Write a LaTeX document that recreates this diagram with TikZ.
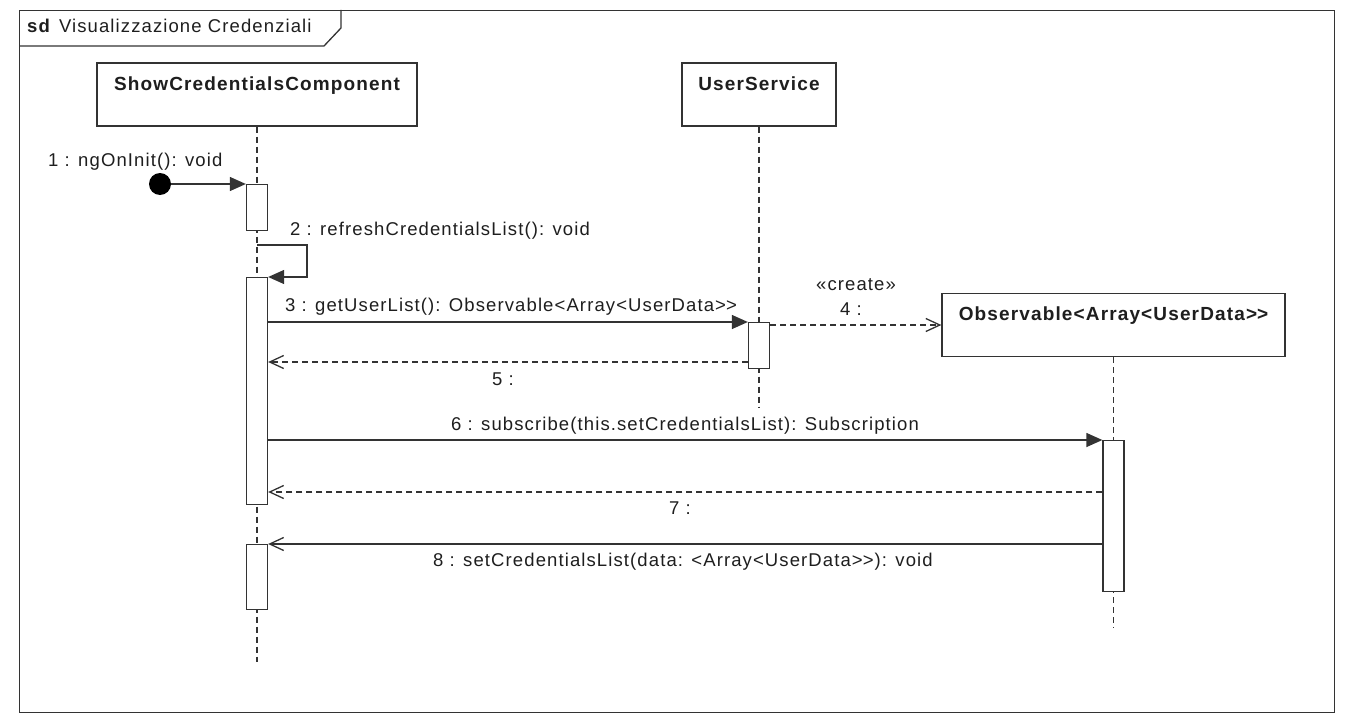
\documentclass[tikz,border=0pt]{standalone}
\usepackage{fontspec}
\setmainfont{Liberation Sans}[LetterSpace=6]
\usetikzlibrary{arrows.meta,calc}
\definecolor{ink}{HTML}{333333}
\definecolor{txt}{HTML}{1E1E1E}
% two separate '>' signs, kept apart so they are not joined into a guillemet
\newcommand{\twogt}{>\kern0pt>}

\begin{document}
\begin{tikzpicture}[x=1pt,y=-1pt,
  every node/.style={text=txt, font=\fontsize{18.5}{22}\selectfont},
  frm/.style={draw=ink, line width=1.3pt, inner sep=0pt},
  head/.style={draw=ink, line width=1.3pt, fill=white, inner sep=0pt,
    text height=27pt, text depth=36pt, minimum height=63pt,
    font=\fontsize{19}{22}\selectfont\bfseries},
  lifeline/.style={draw=ink, line width=1.3pt, dash pattern=on 6pt off 4pt},
  act/.style={draw=ink, line width=1.3pt, fill=white, inner sep=0pt,
    minimum width=21pt, anchor=north},
  lbl/.style={inner sep=0pt},
  sync/.style={draw=ink, line width=1.3pt, -{Triangle[length=16pt,width=14pt]}},
  ret/.style={draw=ink, line width=1.3pt, dash pattern=on 6pt off 4pt,
    -{Straight Barb[length=14pt,width=13pt]}},
  async/.style={draw=ink, line width=1.3pt, -{Straight Barb[length=14pt,width=13pt]}}
]
\useasboundingbox (0,0) rectangle (1354,725);

% sequence diagram frame with its name tab
\node[frm, minimum width=1315pt, minimum height=702pt, anchor=north west] (frame) at (19,10) {};
\draw[ink, line width=1.3pt] (frame.north west) ++(0,36) -- ++(305,0) -- ++(17,-18) -- ++(0,-18);
\node[lbl, anchor=base west] (title) at (27,33) {\textbf{sd}\hspace{8pt}Visualizzazione Credenziali};

% lifeline heads
\node[head, minimum width=320pt] (comp) at (257,94.5) {ShowCredentialsComponent};
\node[head, minimum width=154pt] (us) at (759,94.5) {UserService};
\node[head, minimum width=343pt] (obs) at (1113.5,325) {Observable<Array<UserData\twogt};

% lifelines
\coordinate (compend) at (257,662);
\coordinate (usend) at (759,408);
\coordinate (obsend) at (1113.5,628);
\draw[lifeline] (comp.south) -- (compend);
\draw[lifeline] (us.south) -- (usend);
\draw[lifeline] (obs.south) -- (obsend);

% activation bars
\node[act, minimum height=46pt] (a1) at (257,184) {};
\node[act, minimum height=227pt] (a2) at (257,277) {};
\node[act, minimum height=65pt] (a3) at (257,544) {};
\node[act, minimum height=46pt] (ua) at (759,322) {};
\node[act, minimum height=151pt] (oa) at (1113.5,440) {};

% found message start point
\node[circle, fill=black, minimum size=22pt, inner sep=0pt] (init) at (160,184) {};

% messages
\draw[sync] (init) -- (a1.north west);
\coordinate (s2) at (257,245);
\draw[sync] (s2) -- ++(50,0) |- (a2.north east);
\draw[sync] (a2.east |- ua.north) -- (ua.north west);
\draw[ret] (ua.east |- obs.west) -- (obs.west);
\coordinate (y5) at (0,362);
\draw[ret] (ua.west |- y5) -- (a2.east |- y5);
\draw[sync] (a2.east |- oa.north) -- (oa.north west);
\coordinate (y7) at (0,492);
\draw[ret] (oa.west |- y7) -- (a2.east |- y7);
\draw[async] (oa.west |- a3.north) -- (a3.north east);

% message labels
\node[lbl, anchor=base west] (l1) at (48,166) {1 : ngOnInit(): void};
\node[lbl, anchor=base west] (l2) at (290,235) {2 : refreshCredentialsList(): void};
\node[lbl, anchor=base] (l3) at (511,311) {3 : getUserList(): Observable<Array<UserData\twogt};
\node[lbl, anchor=base] (l4s) at (856,290) {«create»};
\node[lbl, anchor=base] (l4) at (851,315) {4 :};
\node[lbl, anchor=base] (l5) at (503,385) {5 :};
\node[lbl, anchor=base west] (l6) at (451,430) {6 : subscribe(this.setCredentialsList): Subscription};
\node[lbl, anchor=base] (l7) at (680,514) {7 :};
\node[lbl, anchor=base west] (l8) at (433,566) {8 : setCredentialsList(data: <Array<UserData\twogt): void};
\end{tikzpicture}
\end{document}
